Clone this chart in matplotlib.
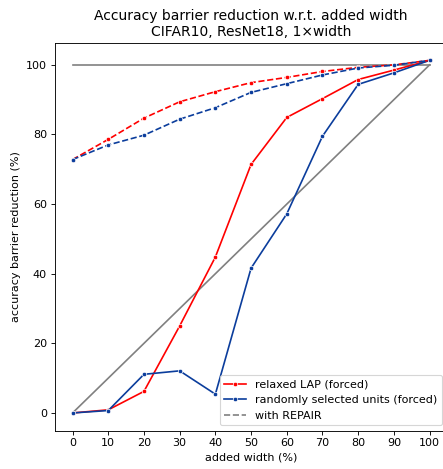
import numpy as np
import matplotlib
matplotlib.use("Agg")
import matplotlib.pyplot as plt

# added width (%)
widths = [0, 10, 20, 30, 40, 50, 60, 70, 80, 90, 100]

# accuracy barrier reduction (%)
lap_forced = [0, 0.9, 6.2, 25.0, 44.8, 71.4, 84.9, 90.3, 95.8, 98.5, 101.3]
rand_forced = [0, 0.7, 11.1, 12.1, 5.4, 41.6, 57.2, 79.5, 94.4, 97.7, 101.3]
lap_repair = [72.8, 78.6, 84.7, 89.4, 92.3, 94.9, 96.4, 98.1, 99.3, 100.0, 101.3]
rand_repair = [72.8, 77.0, 79.8, 84.4, 87.7, 92.1, 94.6, 97.1, 99.1, 99.9, 101.3]

red = 'red'
blue = '#0b3d9c'

fig = plt.figure(figsize=(443 / 80, 469 / 80), dpi=80)
ax = fig.add_axes([0.1235, 0.0819, 0.8865, 0.827])

# reference lines
ax.plot([0, 100], [100, 100], color='gray', lw=1.5)
ax.plot([0, 100], [0, 100], color='gray', lw=1.5)

mk = dict(marker='o', markersize=4, markeredgecolor='white', markeredgewidth=0.6)
ax.plot(widths, lap_forced, color=red, lw=1.5, label='relaxed LAP (forced)', **mk)
ax.plot(widths, rand_forced, color=blue, lw=1.5, label='randomly selected units (forced)', **mk)
ax.plot(widths, lap_repair, color=red, lw=1.5, ls='--', **mk)
ax.plot(widths, rand_repair, color=blue, lw=1.5, ls='--', **mk)
ax.plot([], [], color='gray', lw=1.5, ls='--', label='with REPAIR')

ax.set_xticks(widths)
ax.set_xlabel('added width (%)')
ax.set_ylabel('accuracy barrier reduction (%)')
ax.set_title('Accuracy barrier reduction w.r.t. added width\nCIFAR10, ResNet18, 1\u00d7width',
             fontsize=12.5)
ax.legend(loc='lower right')

fig.savefig('out.png', dpi=80)
